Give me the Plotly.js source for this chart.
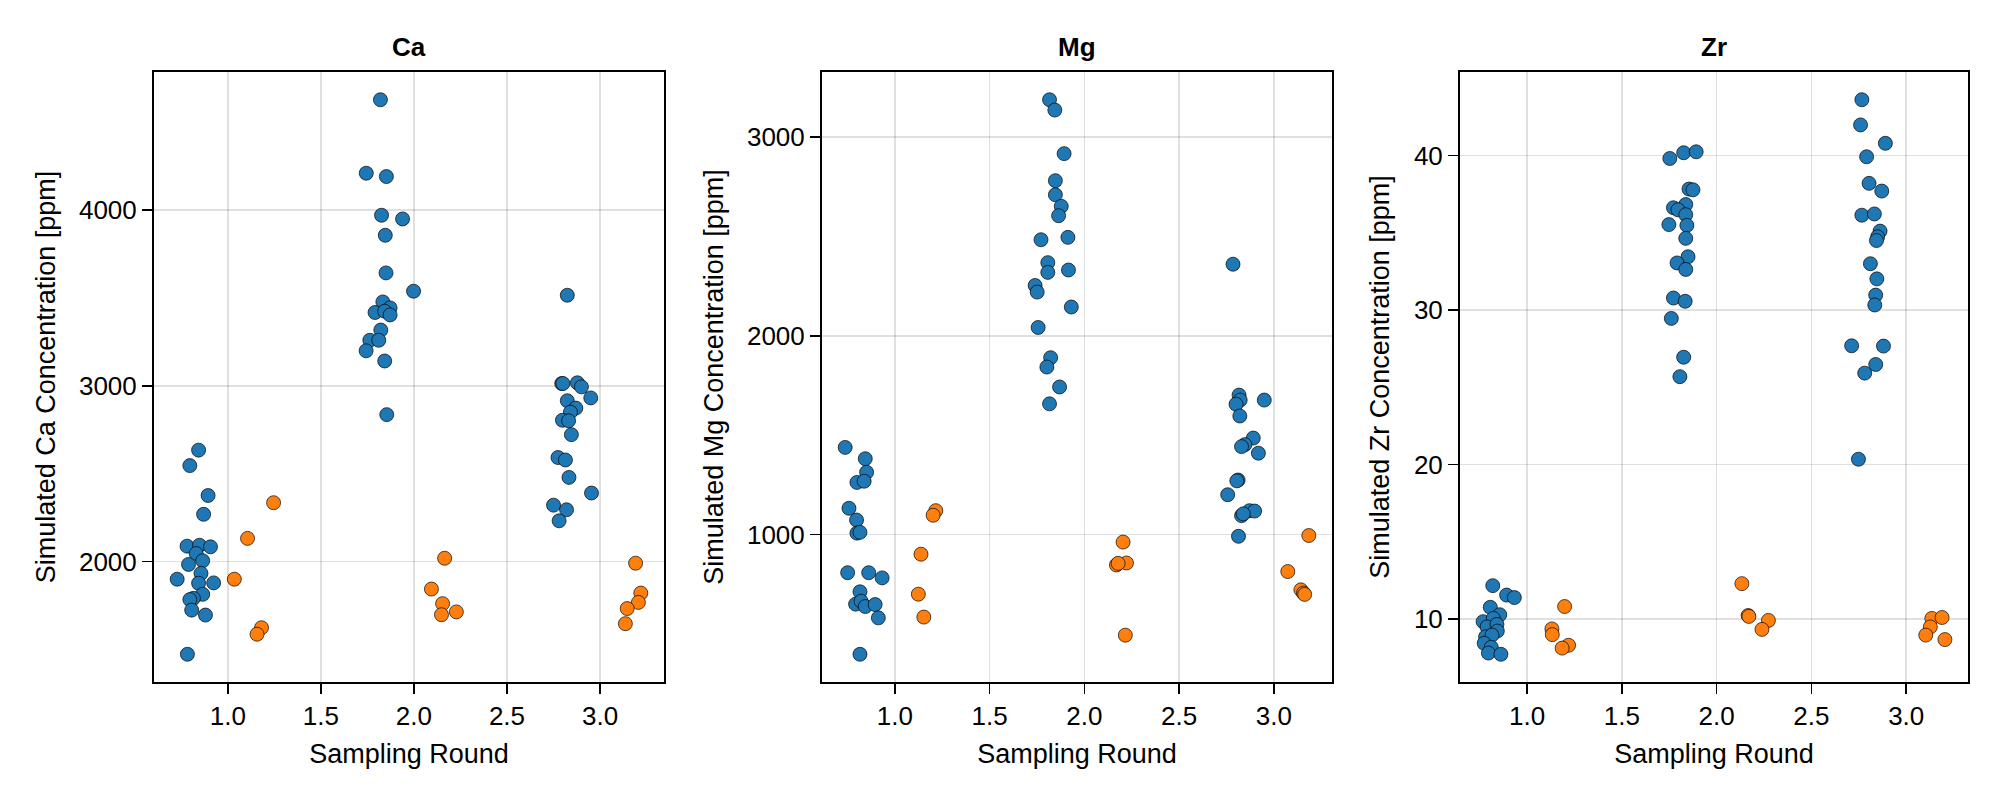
<!DOCTYPE html>
<html>
<head>
<meta charset="utf-8">
<script src="https://cdn.plot.ly/plotly-3.0.1.min.js"></script>
<style>html,body{margin:0;padding:0;background:#fff;}#chart{width:2000px;height:800px;}</style>
</head>
<body>
<div id="chart"></div>
<script>
// ---- Data ----
const panelTitles = ["Ca", "Mg", "Zr"];
const yTitles = ["Simulated Ca Concentration [ppm]", "Simulated Mg Concentration [ppm]", "Simulated Zr Concentration [ppm]"];
const xTitle = "Sampling Round";
const xTickVals = [1.0, 1.5, 2.0, 2.5, 3.0];
const xTickText = ["1.0", "1.5", "2.0", "2.5", "3.0"];
const caTicks = [2000, 3000, 4000];
const mgTicks = [1000, 2000, 3000];
const zrTicks = [10, 20, 30, 40];

const caBlueX = [0.843,0.796,0.894,0.870,0.781,0.848,0.907,0.830,0.865,0.789,0.856,0.728,0.843,0.924,0.865,0.815,0.796,0.806,0.880,0.783,
  1.820,1.744,1.852,1.826,1.939,1.846,1.850,1.998,1.833,1.872,1.791,1.843,1.872,1.822,1.763,1.811,1.743,1.843,1.854,
  2.824,2.794,2.800,2.878,2.900,2.950,2.824,2.870,2.841,2.798,2.831,2.846,2.774,2.814,2.833,2.954,2.750,2.820,2.780];
const caBlueY = [2634,2546,2376,2269,2088,2093,2084,2046,2005,1984,1933,1900,1877,1879,1814,1791,1784,1724,1696,1473,
  4627,4209,4190,3970,3949,3856,3642,3538,3477,3443,3417,3424,3403,3317,3259,3259,3199,3141,2836,
  3515,3013,3013,3017,2994,2931,2915,2873,2850,2804,2801,2722,2592,2578,2479,2390,2321,2295,2232];
const caOrangeX = [1.035,1.106,1.246,1.181,1.157, 2.165,2.094,2.154,2.148,2.228, 3.191,3.219,3.206,3.146,3.136];
const caOrangeY = [1900,2132,2335,1624,1587, 2019,1844,1761,1698,1714, 1991,1821,1768,1733,1647];

const mgBlueX = [0.738,0.844,0.851,0.800,0.838,0.758,0.798,0.800,0.816,0.751,0.862,0.933,0.816,0.793,0.822,0.844,0.896,0.913,0.816,
  1.816,1.844,1.893,1.847,1.847,1.878,1.864,1.771,1.913,1.807,1.807,1.916,1.740,1.751,1.931,1.756,1.822,1.802,1.869,1.816,
  2.784,2.816,2.822,2.800,2.949,2.820,2.891,2.847,2.829,2.918,2.811,2.804,2.756,2.871,2.898,2.829,2.838,2.813];
const mgBlueY = [1439,1382,1314,1263,1269,1133,1074,1008,1012,809,809,783,713,651,666,639,649,582,399,
  3187,3135,2916,2780,2709,2651,2604,2483,2495,2368,2319,2331,2253,2220,2145,2042,1890,1843,1743,1658,
  2360,1702,1677,1656,1677,1597,1486,1453,1443,1410,1275,1271,1201,1121,1119,1096,1105,992];
const mgOrangeX = [1.216,1.202,1.138,1.124,1.153, 2.204,2.222,2.169,2.178,2.216, 3.184,3.073,3.142,3.156,3.162];
const mgOrangeY = [1121,1098,902,701,586, 963,858,848,856,495, 996,815,723,707,700];

const zrBlueX = [0.819,0.892,0.933,0.806,0.856,0.768,0.822,0.789,0.841,0.843,0.781,0.815,0.774,0.811,0.796,0.862,
  1.753,1.826,1.892,1.854,1.875,1.772,1.837,1.796,1.837,1.748,1.843,1.837,1.849,1.791,1.837,1.772,1.834,1.761,1.826,1.806,
  2.766,2.759,2.890,2.791,2.804,2.871,2.766,2.832,2.862,2.849,2.843,2.811,2.845,2.839,2.834,2.712,2.880,2.839,2.781,2.748];
const zrBlueY = [12.17,11.56,11.40,10.77,10.29,9.84,10.05,9.50,9.66,9.23,8.86,8.97,8.44,8.18,7.81,7.73,
  39.81,40.18,40.24,37.83,37.78,36.62,36.83,36.49,36.17,35.53,35.48,34.64,33.45,33.05,32.63,30.78,30.57,29.46,26.95,25.69,
  43.61,41.98,40.79,39.92,38.20,37.70,36.14,36.22,35.11,34.74,34.50,33.00,32.02,30.97,30.33,27.69,27.67,26.48,25.92,20.35];
const zrOrangeX = [1.198,1.131,1.133,1.219,1.185, 2.133,2.166,2.170,2.273,2.239, 3.135,3.189,3.127,3.103,3.204];
const zrOrangeY = [10.82,9.37,9.00,8.31,8.13, 12.30,10.24,10.18,9.92,9.34, 10.05,10.11,9.50,8.97,8.68];

// ---- Styling ----
const BLUE = "#1f77b4", ORANGE = "#ff7f0e";
const FONT = "Liberation Sans, Arial, Helvetica, sans-serif";
const W = 2000, H = 800;
const panelsPx = [[154, 664], [822, 1332], [1460, 1968]];
const topPx = 72, botPx = 682;

function padRange(arrs) {
  let mn = Infinity, mx = -Infinity;
  arrs.forEach(a => a.forEach(v => { if (v < mn) mn = v; if (v > mx) mx = v; }));
  const p = (mx - mn) * 0.05;
  return [mn - p, mx + p];
}

const sets = [
  {bx: caBlueX, by: caBlueY, ox: caOrangeX, oy: caOrangeY, ticks: caTicks},
  {bx: mgBlueX, by: mgBlueY, ox: mgOrangeX, oy: mgOrangeY, ticks: mgTicks},
  {bx: zrBlueX, by: zrBlueY, ox: zrOrangeX, oy: zrOrangeY, ticks: zrTicks}
];

const traces = [];
const layout = {
  width: W, height: H,
  margin: {l: 0, r: 0, t: 0, b: 0},
  paper_bgcolor: "#fff", plot_bgcolor: "#fff",
  showlegend: false,
  font: {family: FONT, size: 26, color: "#000"},
  annotations: []
};

sets.forEach((s, i) => {
  const n = i === 0 ? "" : String(i + 1);
  const xa = "x" + n, ya = "y" + n;
  const mk = (c) => ({color: c, size: 14, line: {color: "rgba(0,0,0,0.85)", width: 0.8}});
  traces.push({type: "scatter", mode: "markers", x: s.bx, y: s.by, xaxis: xa, yaxis: ya, marker: mk(BLUE), name: "Group A", hoverinfo: "x+y"});
  traces.push({type: "scatter", mode: "markers", x: s.ox, y: s.oy, xaxis: xa, yaxis: ya, marker: mk(ORANGE), name: "Group B", hoverinfo: "x+y"});

  const common = {
    showline: true, linecolor: "#000", linewidth: 2, mirror: true,
    showgrid: true, gridcolor: "rgba(0,0,0,0.12)", gridwidth: 1.5,
    zeroline: false, ticks: "outside", ticklen: 10, tickwidth: 1.5, tickcolor: "#000",
    tickfont: {family: FONT, size: 26, color: "#000"}
  };
  layout["xaxis" + n] = Object.assign({}, common, {
    domain: [panelsPx[i][0] / W, panelsPx[i][1] / W],
    anchor: ya,
    range: padRange([s.bx, s.ox]),
    tickmode: "array", tickvals: xTickVals, ticktext: xTickText,
    title: {text: xTitle, font: {family: FONT, size: 27, color: "#000"}, standoff: 14}
  });
  layout["yaxis" + n] = Object.assign({}, common, {
    domain: [1 - botPx / H, 1 - topPx / H],
    anchor: xa,
    range: padRange([s.by, s.oy]),
    tickmode: "array", tickvals: s.ticks, ticktext: s.ticks.map(String),
    title: {text: yTitles[i], font: {family: FONT, size: 27, color: "#000"}, standoff: 16}
  });
  layout.annotations.push({
    text: "<b>" + panelTitles[i] + "</b>",
    xref: "paper", yref: "paper",
    x: (panelsPx[i][0] + panelsPx[i][1]) / 2 / W,
    y: 1 - 47 / H,
    xanchor: "center", yanchor: "middle",
    showarrow: false,
    font: {family: FONT, size: 26, color: "#000"}
  });
});

Plotly.newPlot("chart", traces, layout, {displayModeBar: false, staticPlot: true});
</script>
</body>
</html>
